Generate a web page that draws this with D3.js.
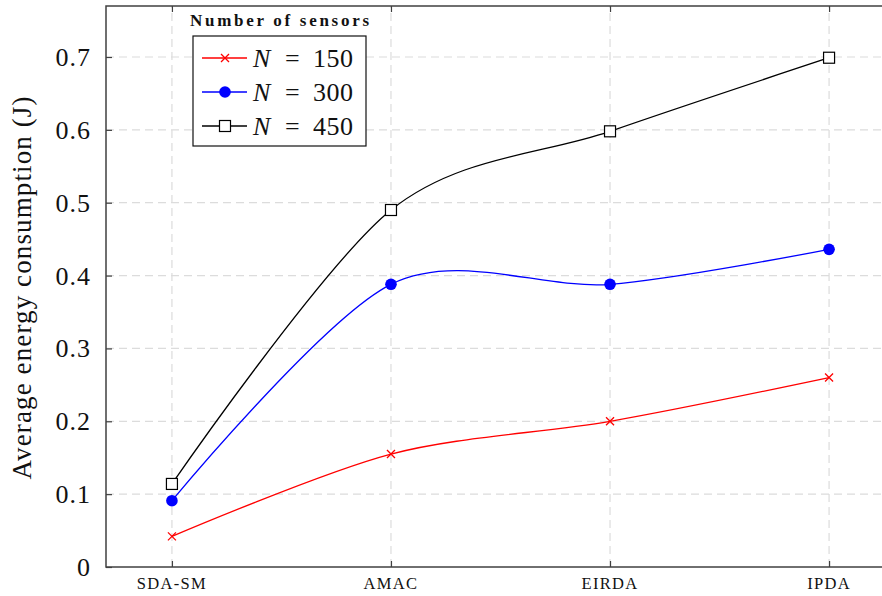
<!DOCTYPE html>
<html>
<head>
<meta charset="utf-8">
<script src="https://cdn.jsdelivr.net/npm/d3@7"></script>
<style>
  body { margin: 0; background: #fff; }
  text { font-family: "Liberation Serif", "DejaVu Serif", serif; }
</style>
</head>
<body>
<div id="chart"></div>
<script>
// --- DATA ---
var categories = ["SDA-SM", "AMAC", "EIRDA", "IPDA"];
var n150 = [0.042, 0.155, 0.2, 0.26];
var n300 = [0.091, 0.388, 0.388, 0.436];
var n450 = [0.114, 0.49, 0.598, 0.699];
var yTicks = [0, 0.1, 0.2, 0.3, 0.4, 0.5, 0.6, 0.7];
var seriesNames = ["150", "300", "450"];

var width = 882, height = 596;
var plotLeft = 106, plotRight = 895, plotTop = 6, plotBottom = 567;

var svg = d3.select("#chart").append("svg")
  .attr("width", width).attr("height", height);

var x = d3.scalePoint().domain(categories).range([plotLeft, plotRight]).padding(0.301);
var y = d3.scaleLinear().domain([0, 0.77]).range([plotBottom, plotTop]);

// --- GRID ---
svg.selectAll(".hgrid").data(yTicks.slice(1)).enter().append("line")
  .attr("x1", plotLeft).attr("x2", plotRight)
  .attr("y1", d => y(d)).attr("y2", d => y(d))
  .attr("stroke", "#dcdcdc").attr("stroke-width", 1.2).attr("stroke-dasharray", "8,5");

svg.selectAll(".vgrid").data(categories).enter().append("line")
  .attr("x1", d => x(d)).attr("x2", d => x(d))
  .attr("y1", plotBottom).attr("y2", plotTop)
  .attr("stroke", "#dcdcdc").attr("stroke-width", 1.2).attr("stroke-dasharray", "8,5");

// --- AXES ---
var axisColor = "#404040";
var yAxis = svg.append("g").attr("transform", "translate(" + plotLeft + ",0)")
  .call(d3.axisRight(y).tickValues(yTicks).tickSize(6).tickFormat(""));
var xAxis = svg.append("g").attr("transform", "translate(0," + plotBottom + ")")
  .call(d3.axisTop(x).tickSize(6).tickFormat(""));
var xAxisTop = svg.append("g").attr("transform", "translate(0," + plotTop + ")")
  .call(d3.axisBottom(x).tickSize(6).tickFormat(""));
[yAxis, xAxis, xAxisTop].forEach(function(g) {
  g.select(".domain").remove();
  g.selectAll("line").attr("stroke", axisColor).attr("stroke-width", 1.2);
});

svg.append("rect")
  .attr("x", plotLeft).attr("y", plotTop)
  .attr("width", plotRight - plotLeft).attr("height", plotBottom - plotTop)
  .attr("fill", "none").attr("stroke", axisColor).attr("stroke-width", 1.5);

// tick labels
svg.selectAll(".ylab").data(yTicks).enter().append("text")
  .attr("x", 91).attr("y", d => y(d) + 9)
  .attr("text-anchor", "end")
  .attr("font-size", 26).attr("letter-spacing", 1).attr("fill", "#111")
  .text(d => d === 0 ? "0" : d.toString());

svg.selectAll(".xlab").data(categories).enter().append("text")
  .attr("x", d => x(d)).attr("y", 589)
  .attr("text-anchor", "middle")
  .attr("font-size", 16.5).attr("letter-spacing", 1.3).attr("fill", "#111")
  .text(d => d);

svg.append("text")
  .attr("transform", "translate(31,288) rotate(-90)")
  .attr("text-anchor", "middle")
  .attr("font-size", 27).attr("fill", "#111")
  .attr("textLength", 383).attr("lengthAdjust", "spacing")
  .text("Average energy consumption (J)");

// --- LINES ---
var line = d3.line()
  .x((d, i) => x(categories[i]))
  .y(d => y(d))
  .curve(d3.curveCardinal.tension(0.08));

var series = [
  { values: n150, color: "#ff0000", marker: "cross" },
  { values: n300, color: "#0000ff", marker: "circle" },
  { values: n450, color: "#000000", marker: "square" }
];

function drawMarker(g, type, color, cx, cy) {
  if (type === "cross") {
    g.append("path")
      .attr("d", "M" + (cx - 4) + "," + (cy - 4) + "L" + (cx + 4) + "," + (cy + 4) +
                 "M" + (cx - 4) + "," + (cy + 4) + "L" + (cx + 4) + "," + (cy - 4))
      .attr("stroke", color).attr("stroke-width", 1.3).attr("fill", "none");
  } else if (type === "circle") {
    g.append("circle").attr("cx", cx).attr("cy", cy).attr("r", 5.8).attr("fill", color);
  } else {
    g.append("rect").attr("x", cx - 5.5).attr("y", cy - 5.5)
      .attr("width", 11).attr("height", 11)
      .attr("fill", "#fff").attr("stroke", color).attr("stroke-width", 1.2);
  }
}

series.forEach(function(s) {
  svg.append("path")
    .datum(s.values)
    .attr("d", line)
    .attr("fill", "none")
    .attr("stroke", s.color)
    .attr("stroke-width", 1.3);
  var g = svg.append("g");
  s.values.forEach(function(v, i) {
    drawMarker(g, s.marker, s.color, x(categories[i]), y(v));
  });
});

// --- LEGEND ---
svg.append("text")
  .attr("x", 190).attr("y", 26)
  .attr("font-size", 17).attr("font-weight", "bold")
  .attr("textLength", 179).attr("lengthAdjust", "spacing")
  .attr("fill", "#111")
  .text("Number of sensors");

svg.append("rect")
  .attr("x", 193).attr("y", 36).attr("width", 173).attr("height", 110)
  .attr("fill", "#fff").attr("stroke", "#111").attr("stroke-width", 1.2);

var rowY = [58, 92, 126];
series.forEach(function(s, i) {
  var g = svg.append("g");
  g.append("line")
    .attr("x1", 202).attr("x2", 247).attr("y1", rowY[i]).attr("y2", rowY[i])
    .attr("stroke", s.color).attr("stroke-width", 1.3);
  drawMarker(g, s.marker, s.color, 225, rowY[i]);
  var t = g.append("text").attr("y", rowY[i] + 9)
    .attr("font-size", 26).attr("fill", "#111");
  t.append("tspan").attr("x", 253).attr("font-style", "italic").text("N");
  t.append("tspan").attr("x", 285).text("=");
  t.append("tspan").attr("x", 313).attr("letter-spacing", 0.5).text(seriesNames[i]);
});
</script>
</body>
</html>
